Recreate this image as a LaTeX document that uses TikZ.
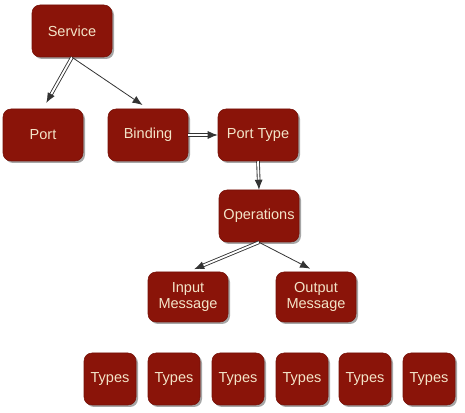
\documentclass[tikz,border=0pt]{standalone}
\usepackage{fontspec}
\setmainfont{Liberation Sans}
\usetikzlibrary{arrows.meta,shadows}
\definecolor{boxred}{HTML}{8A1409}
\definecolor{boxtext}{HTML}{F3E4C8}
\begin{document}
\begin{tikzpicture}[x=0.75pt,y=-0.75pt,
        wsdl/.style={fill=boxred, draw=boxred!85!black, rounded corners=6pt, text=boxtext,
            font=\fontsize{10.9}{12.5}\selectfont, align=center, inner xsep=1pt,
            minimum width=60pt, minimum height=39pt,
            drop shadow={shadow xshift=1.5pt, shadow yshift=-1.5pt, fill=black, opacity=0.35}},
        link/.style={draw=black!80, line width=0.6pt, -{Latex[length=7.5pt,width=6pt]}},
        twin/.style={link, double=white, double distance=1.4pt, line width=0.65pt}]
                \path[fill=white, use as bounding box] (0,0) rectangle (465,413);

                \node[wsdl] (service) at (72,31) {Service};
                \node[wsdl] (port) at (43,135) {Port};
                \node[wsdl] (binding) at (148,135) {Binding};
                \node[wsdl] (porttype) at (258,135) {Port Type};
                \node[wsdl] (operations) at (259,216) {Operations};
                \node[wsdl, minimum height=37.5pt] (input) at (188,297) {Input\\Message};
                \node[wsdl, minimum height=37.5pt] (output) at (316,297) {Output\\Message};
                \foreach \i/\x in {1/110,2/174,3/238,4/302,5/365,6/429}
                    \node[wsdl, minimum width=39pt] (types\i) at (\x,379) {Types};

                \draw[twin, shorten >=5pt] (service.south) -- (port.north);
                \draw[link, shorten >=5pt] (service.south) -- (binding.north);
                \draw[twin] (binding.east) -- (porttype.west);
                \draw[twin] (porttype.south) -- (operations.north);
                \draw[twin, shorten >=5pt] (operations.south) -- (input.north);
                \draw[link, shorten >=5pt] (operations.south) -- (output.north);
            \end{tikzpicture}
\end{document}
